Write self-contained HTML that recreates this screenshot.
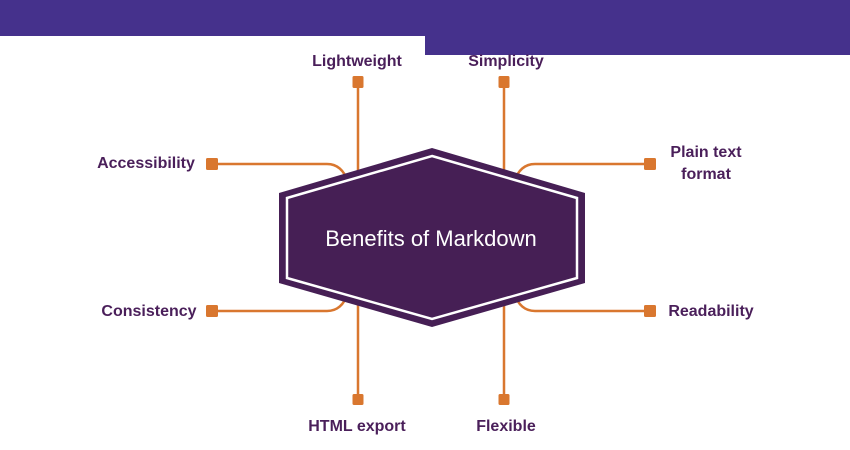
<!DOCTYPE html>
<html><head><meta charset="utf-8"><style>
html,body{margin:0;padding:0;background:#fff;}
svg{display:block;}
text{font-family:"Liberation Sans",sans-serif;}
.l{font-weight:bold;font-size:16px;fill:#4a1f5a;}
</style></head><body>
<svg width="850" height="450" viewBox="0 0 850 450" xmlns="http://www.w3.org/2000/svg">
<rect x="0" y="0" width="850" height="36" fill="#45318c"/>
<rect x="425" y="0" width="425" height="55" fill="#45318c"/>
<g stroke="#d9772f" stroke-width="2.5" fill="none">
<line x1="358" y1="82" x2="358" y2="190"/>
<line x1="504" y1="82" x2="504" y2="190"/>
<line x1="358" y1="290" x2="358" y2="398"/>
<line x1="504" y1="290" x2="504" y2="398"/>
<path d="M212 164 H327 Q342 164 348 182"/>
<path d="M650 164 H535 Q520 164 514 182"/>
<path d="M212 311 H327 Q342 311 348 293"/>
<path d="M650 311 H535 Q520 311 514 293"/>
</g>
<g fill="#d9772f">
<rect x="352.5" y="76" width="11" height="12" rx="1.5"/>
<rect x="498.5" y="76" width="11" height="12" rx="1.5"/>
<rect x="352.5" y="394" width="11" height="11" rx="1.5"/>
<rect x="498.5" y="394" width="11" height="11" rx="1.5"/>
<rect x="206" y="158" width="12" height="12" rx="1.5"/>
<rect x="644" y="158" width="12" height="12" rx="1.5"/>
<rect x="206" y="305" width="12" height="12" rx="1.5"/>
<rect x="644" y="305" width="12" height="12" rx="1.5"/>
</g>
<polygon points="432,148 585,193 585,283 432,327 279,283 279,193" fill="#461f55"/>
<polygon points="432,156 577,198 577,278 432,319 287,278 287,198" fill="none" stroke="#fff" stroke-width="2.5"/>
<text x="431" y="246" font-size="22" fill="#fff" text-anchor="middle">Benefits of Markdown</text>
<text class="l" x="357" y="66" text-anchor="middle">Lightweight</text>
<text class="l" x="506" y="66" text-anchor="middle">Simplicity</text>
<text class="l" x="146" y="168" text-anchor="middle">Accessibility</text>
<text class="l" x="706" y="157" text-anchor="middle">Plain text</text>
<text class="l" x="706" y="179" text-anchor="middle">format</text>
<text class="l" x="149" y="316" text-anchor="middle">Consistency</text>
<text class="l" x="711" y="316" text-anchor="middle">Readability</text>
<text class="l" x="357" y="431" text-anchor="middle">HTML export</text>
<text class="l" x="506" y="431" text-anchor="middle">Flexible</text>
</svg>
</body></html>
